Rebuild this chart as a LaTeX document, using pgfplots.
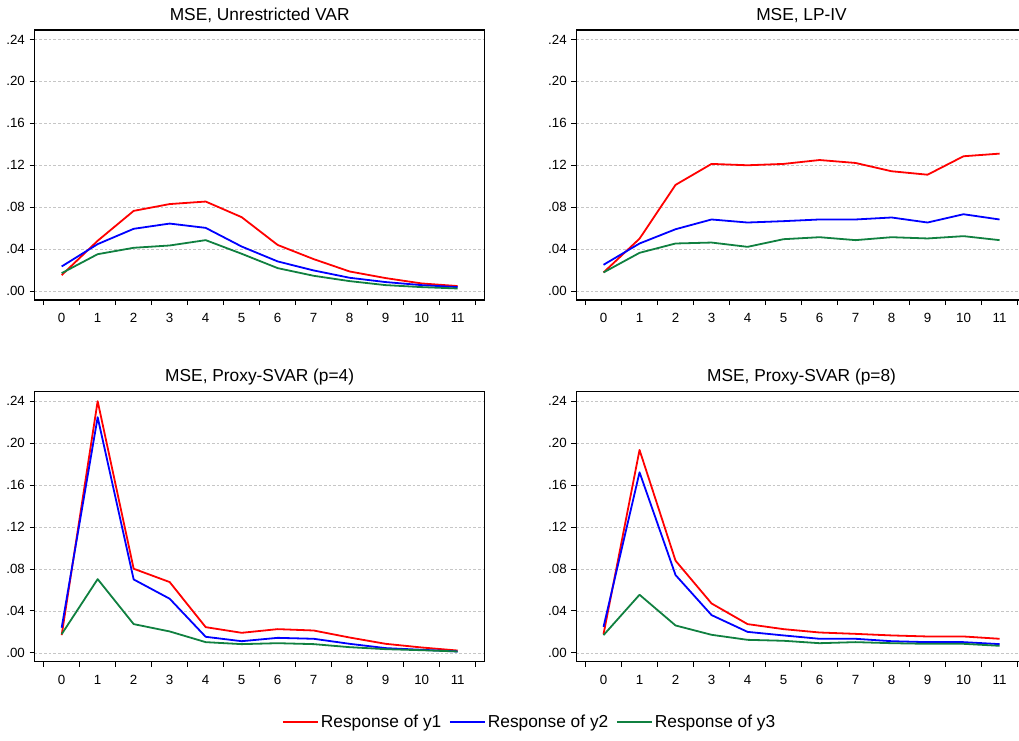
\documentclass[border=0pt]{standalone}
\usepackage{pgfplots}
\pgfplotsset{compat=1.18}
\usepackage{fontspec}
\setmainfont{Liberation Sans}
\definecolor{ya}{RGB}{255,0,0}
\definecolor{yb}{RGB}{0,0,255}
\definecolor{yc}{RGB}{16,128,64}

\pgfplotsset{
  panel/.style={
    scale only axis, width=337.5pt, height=202.5pt,
    anchor=north west,
    xmin=-0.75, xmax=11.75, ymin=-0.0085, ymax=0.249,
    axis line style={line width=0.9pt},
    tick align=outside, major tick length=3.8pt,
    tick style={black, line width=0.6pt},
    xtick pos=bottom, ytick pos=left,
    xtick={-0.5,0.5,...,11.5}, xticklabels={},
    extra x ticks={0,1,2,3,4,5,6,7,8,9,10,11},
    extra x tick labels={0,1,2,3,4,5,6,7,8,9,10,11},
    extra x tick style={major tick length=0pt, grid=none,
      xticklabel style={yshift=-6.5pt}},
    ytick={0,0.04,0.08,0.12,0.16,0.2,0.24},
    yticklabels={.00,.04,.08,.12,.16,.20,.24},
    ymajorgrids, major grid style={gray!45, line width=0.5pt, dash pattern=on 2pt off 1.5pt},
    tick label style={font=\fontsize{10}{12}\selectfont},
    /pgf/number format/assume math mode=true,
    title style={at={(0.5,1)}, anchor=base, yshift=1.5pt, font=\fontsize{13}{15}\selectfont},
    every axis plot/.append style={no marks, line width=1.35pt, line join=round},
  }
}

\begin{document}
\begin{tikzpicture}
\useasboundingbox (0pt,0pt) rectangle (764.25pt,-555pt);
\clip (0pt,0pt) rectangle (764.25pt,-555pt);

% top left
\begin{axis}[panel, at={(26pt,-22.5pt)}, title={MSE, Unrestricted VAR}]
\addplot[ya] coordinates {(0,0.0152) (1,0.048) (2,0.0765) (3,0.083) (4,0.0854) (5,0.0705) (6,0.044) (7,0.0305) (8,0.0187) (9,0.0124) (10,0.0073) (11,0.0048)};
\addplot[yb] coordinates {(0,0.0235) (1,0.0448) (2,0.0594) (3,0.0644) (4,0.0603) (5,0.0425) (6,0.0283) (7,0.0197) (8,0.0127) (9,0.0086) (10,0.0057) (11,0.0038)};
\addplot[yc] coordinates {(0,0.0171) (1,0.0352) (2,0.0413) (3,0.0435) (4,0.0486) (5,0.0356) (6,0.0219) (7,0.0146) (8,0.0095) (9,0.0057) (10,0.0038) (11,0.0025)};
\end{axis}

% top right
\begin{axis}[panel, at={(432.4pt,-22.5pt)}, title={MSE, LP-IV}]
\addplot[ya] coordinates {(0,0.0178) (1,0.050) (2,0.1013) (3,0.1213) (4,0.120) (5,0.1213) (6,0.125) (7,0.1222) (8,0.1143) (9,0.111) (10,0.1286) (11,0.1311)};
\addplot[yb] coordinates {(0,0.0251) (1,0.0454) (2,0.059) (3,0.0683) (4,0.0654) (5,0.0667) (6,0.0683) (7,0.0683) (8,0.0702) (9,0.0654) (10,0.0733) (11,0.0683)};
\addplot[yc] coordinates {(0,0.0178) (1,0.0365) (2,0.0454) (3,0.0463) (4,0.0422) (5,0.0495) (6,0.0514) (7,0.0486) (8,0.0514) (9,0.0502) (10,0.0524) (11,0.0486)};
\end{axis}

% bottom left
\begin{axis}[panel, at={(26pt,-293.8pt)}, title={MSE, Proxy-SVAR (p=4)}]
\addplot[ya] coordinates {(0,0.0169) (1,0.240) (2,0.0802) (3,0.0675) (4,0.0245) (5,0.0191) (6,0.0226) (7,0.0213) (8,0.0146) (9,0.0086) (10,0.0051) (11,0.0022)};
\addplot[yb] coordinates {(0,0.0239) (1,0.2247) (2,0.070) (3,0.0516) (4,0.0153) (5,0.0111) (6,0.0143) (7,0.0134) (8,0.0086) (9,0.0045) (10,0.0029) (11,0.0013)};
\addplot[yc] coordinates {(0,0.0178) (1,0.0703) (2,0.0274) (3,0.0204) (4,0.0102) (5,0.0083) (6,0.0092) (7,0.0083) (8,0.0054) (9,0.0035) (10,0.0025) (11,0.0013)};
\end{axis}

% bottom right, carries the legend
\begin{axis}[panel, at={(432.4pt,-293.8pt)}, title={MSE, Proxy-SVAR (p=8)},
  legend columns=3,
  legend style={at={(-0.103,-0.223)}, anchor=center, draw=none, fill=none,
    font=\fontsize{13}{15}\selectfont,
    /tikz/every even column/.append style={column sep=4pt}},
  legend image code/.code={\draw[#1, line width=0.9pt] (0,0) -- (26pt,0);}]
\addplot[ya] coordinates {(0,0.0178) (1,0.1935) (2,0.0879) (3,0.0471) (4,0.0274) (5,0.0226) (6,0.0194) (7,0.0181) (8,0.0166) (9,0.0156) (10,0.0156) (11,0.0134)};
\addlegendentry{Response of y1}
\addplot[yb] coordinates {(0,0.0248) (1,0.1722) (2,0.0742) (3,0.036) (4,0.020) (5,0.0166) (6,0.0134) (7,0.0134) (8,0.0111) (9,0.0102) (10,0.0102) (11,0.0083)};
\addlegendentry{Response of y2}
\addplot[yc] coordinates {(0,0.0169) (1,0.0554) (2,0.0261) (3,0.0172) (4,0.0124) (5,0.0115) (6,0.0092) (7,0.0102) (8,0.0092) (9,0.0086) (10,0.0086) (11,0.0067)};
\addlegendentry{Response of y3}
\end{axis}
\end{tikzpicture}
\end{document}
